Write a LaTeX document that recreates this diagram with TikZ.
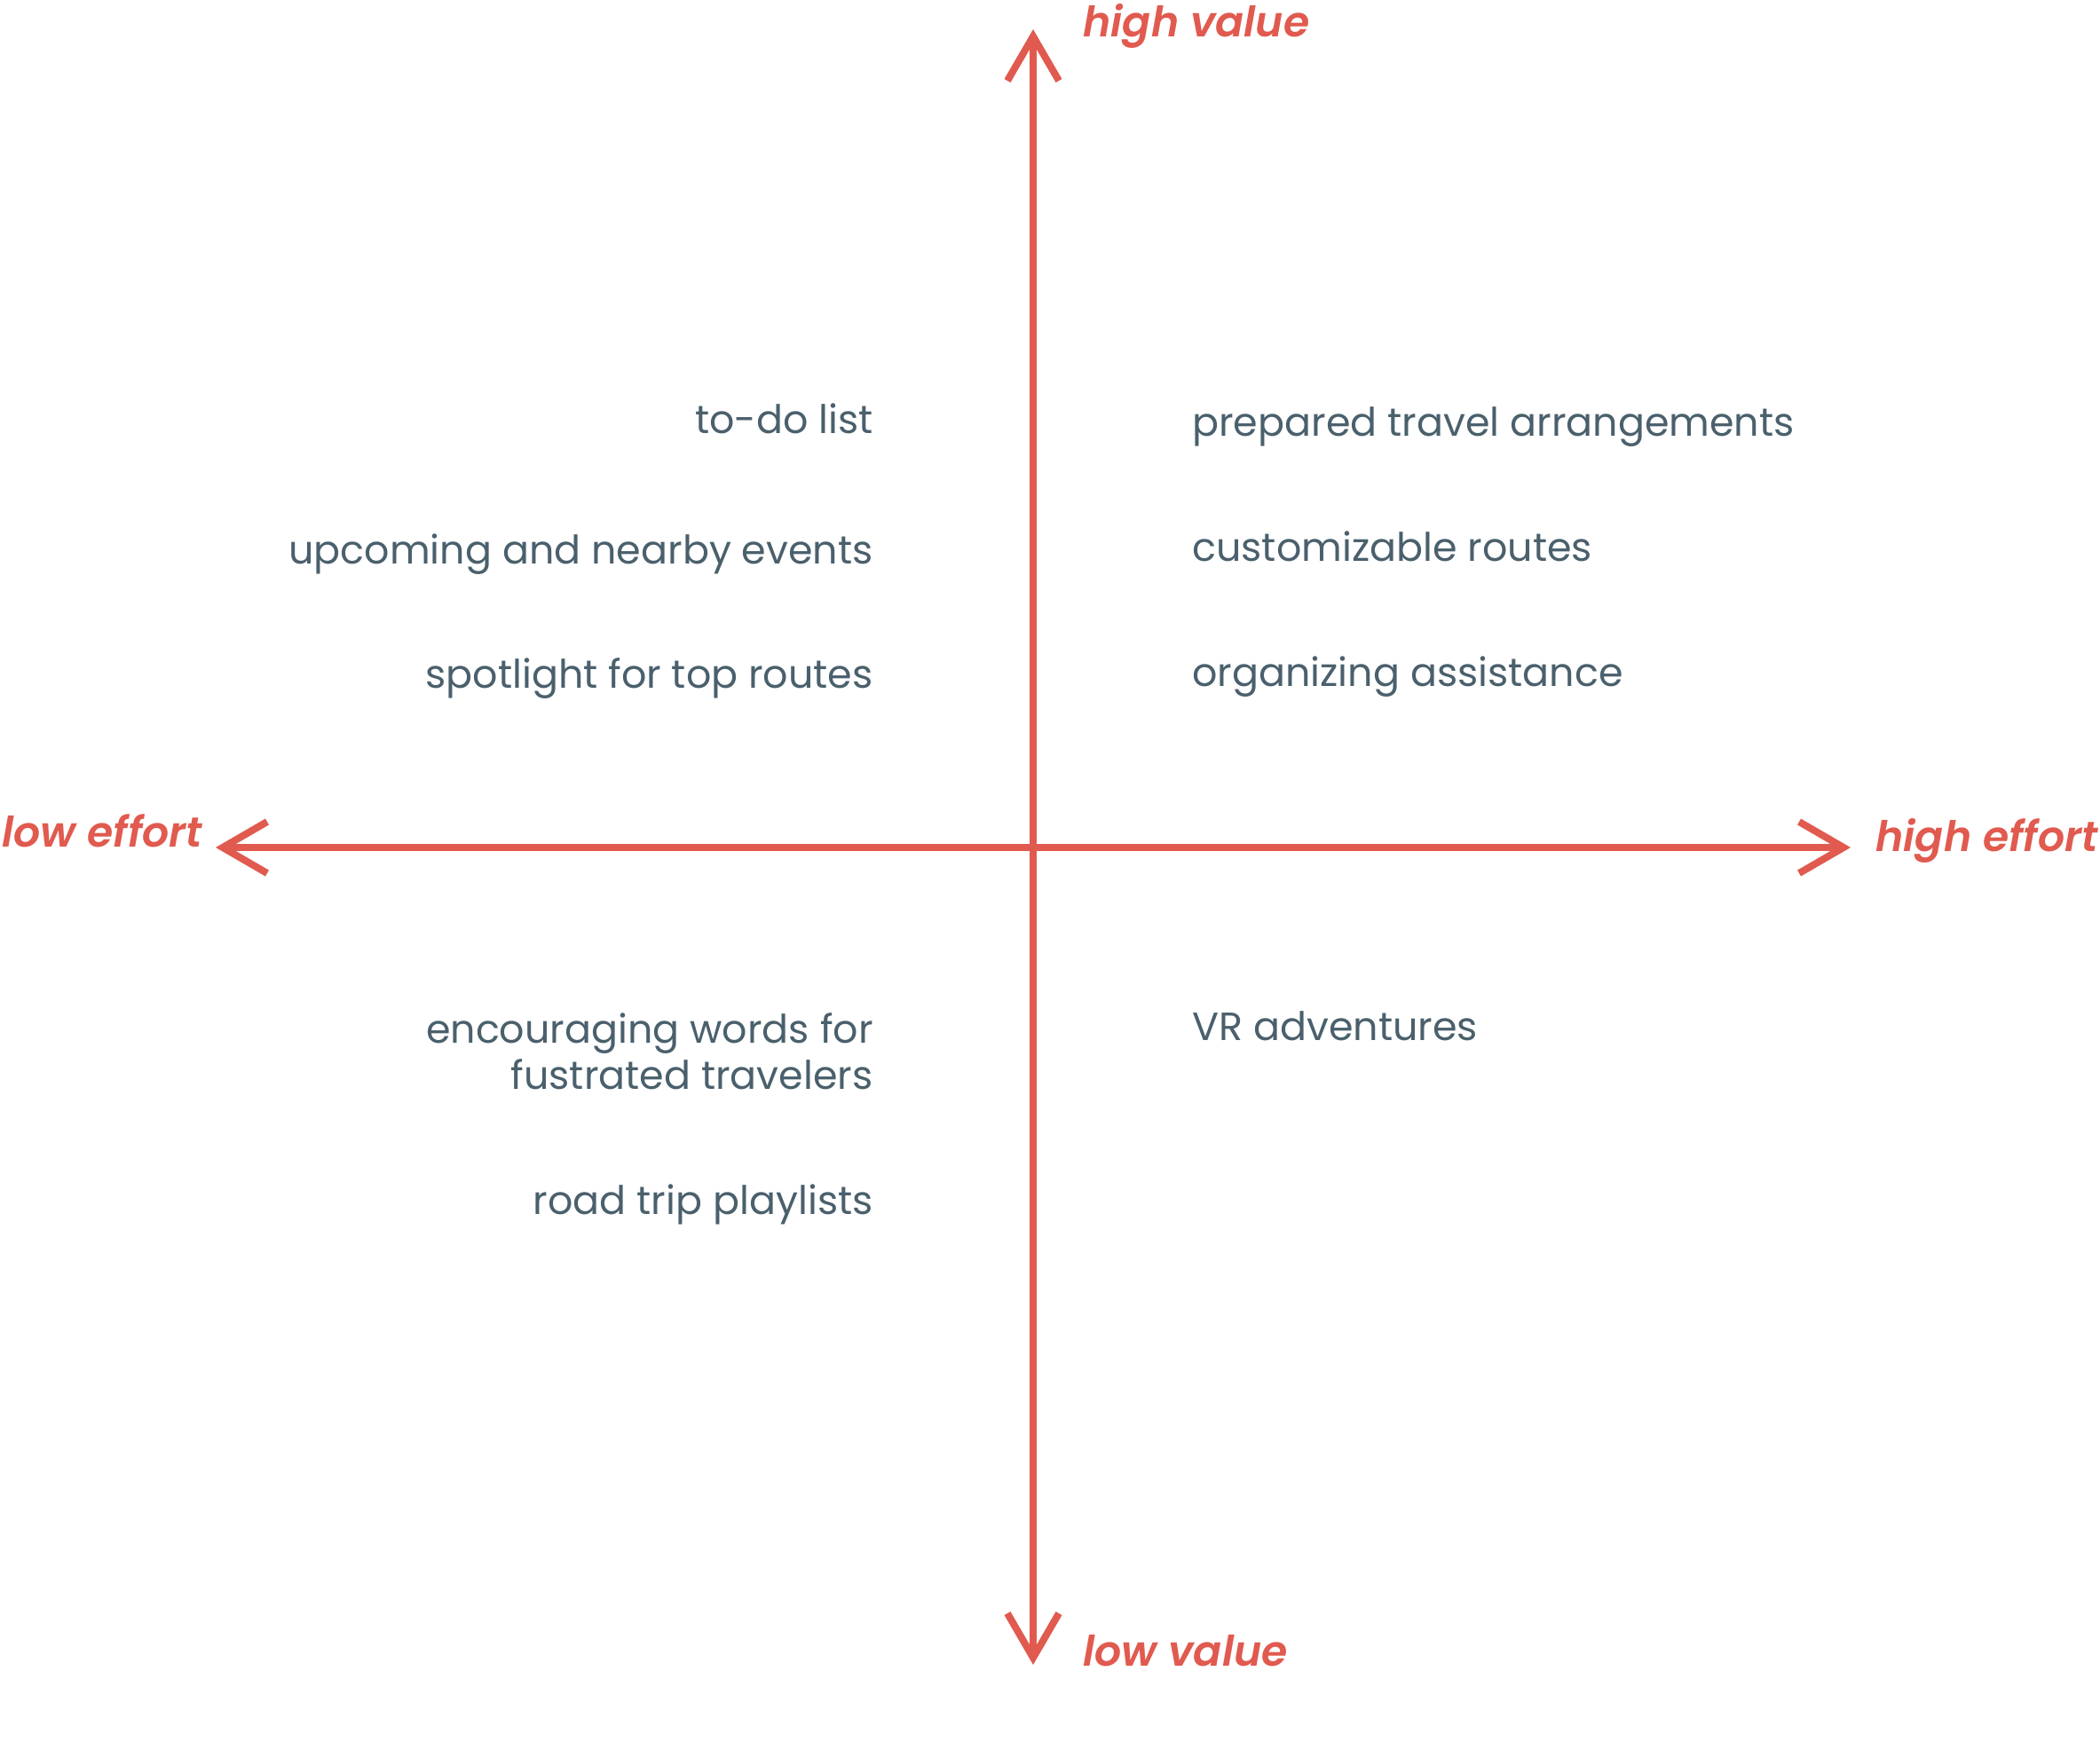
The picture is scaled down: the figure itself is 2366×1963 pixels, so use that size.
\documentclass[tikz,border=0pt]{standalone}
\usepackage{fontspec}
\setmainfont{Poppins}
\newfontfamily\axisfont{Poppins SemiBold Italic}
\usetikzlibrary{arrows.meta}
\definecolor{axisred}{HTML}{E15A4F}
\definecolor{itemgray}{HTML}{4A606C}
\begin{document}
\begin{tikzpicture}[x=0.5pt,y=-0.5pt,
  axis/.style={draw=axisred,line width=4pt,-{Straight Barb[length=25pt,width=29pt]}},
  axislabel/.style={inner sep=0pt,text=axisred,font=\fontsize{23.7}{28}\selectfont\axisfont},
  itemL/.style={inner sep=0pt,text=itemgray,anchor=base east,align=right,font=\fontsize{22.2}{26}\selectfont},
  itemR/.style={inner sep=0pt,text=itemgray,anchor=base west,align=left,font=\fontsize{22.2}{26}\selectfont}]
\useasboundingbox (0,0) rectangle (2366,1963);
% axes
\coordinate (c) at (1164,955);
\coordinate (top) at (1164,33);
\coordinate (bottom) at (1164,1876);
\coordinate (left) at (243,955);
\coordinate (right) at (2085,955);
\draw[axis] (c) -- (top);
\draw[axis] (c) -- (bottom);
\draw[axis] (c) -- (left);
\draw[axis] (c) -- (right);
% axis labels
\node[axislabel,anchor=base west] (hv) at (1220,42) {high value};
\node[axislabel,anchor=base west] (lv) at (1220,1877) {low value};
\node[axislabel,anchor=base west] (le) at (2,954) {low effort};
\node[axislabel,anchor=base west] (he) at (2113,959) {high effort};
% items left
\node[itemL] (todo) at (984,488) {to-do list};
\node[itemL] (events) at (984,635) {upcoming and nearby events};
\node[itemL] (spot) at (984,775) {spotlight for top routes};
\node[itemL] (enc) at (984,1227) {encouraging words for\\fustrated travelers};
\node[itemL] (road) at (984,1368) {road trip playlists};
% items right
\node[itemR] (prep) at (1343,491) {prepared travel arrangements};
\node[itemR] (cust) at (1343,632) {customizable routes};
\node[itemR] (org) at (1343,773) {organizing assistance};
\node[itemR] (vr) at (1343,1172) {VR adventures};
\end{tikzpicture}
\end{document}
